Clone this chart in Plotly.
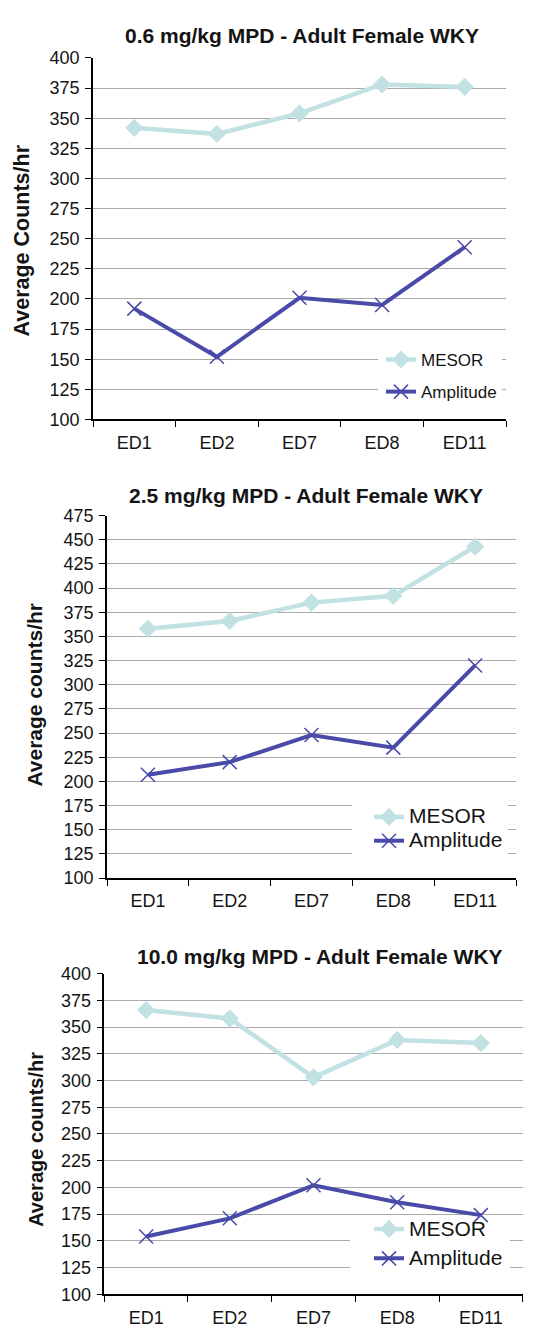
import plotly.graph_objects as go

# ---- data -------------------------------------------------------------
days = ["ED1", "ED2", "ED7", "ED8", "ED11"]

titles = [
    "0.6 mg/kg MPD - Adult Female WKY",
    "2.5 mg/kg MPD - Adult Female WKY",
    "10.0 mg/kg MPD - Adult Female WKY",
]
ylabels = ["Average Counts/hr", "Average counts/hr", "Average counts/hr"]

mesor_06 = [342, 337, 354, 378, 376]
ampl_06 = [192, 152, 201, 195, 243]

mesor_25 = [358, 366, 385, 392, 443]
ampl_25 = [207, 220, 248, 235, 320]

mesor_10 = [366, 358, 303, 338, 335]
ampl_10 = [154, 171, 202, 186, 174]

y_ranges = [(100, 400), (100, 475), (100, 400)]

# ---- page geometry (pixels) -----------------------------------------
W, H = 539, 1337
# left, right, top, bottom of each plotting area
panels = [
    (93, 506, 48.7, 415.7),
    (107, 516, 513.3, 881.3),
    (104.3, 522.7, 978.3, 1303.7),
]
title_pos = [(302, 26), (305.5, 493), (320, 960.5)]
ylabel_pos = [(22, 234, 21.5), (35, 695, 21), (36, 1147, 20)]

# legend placement: left x, top y, line-height font size, entry gap, text size
legend_specs = [
    (381, 337, 17, 7, 17),
    (369, 802, 16, 0, 21),
    (369, 1219, 18, 3, 21),
]
# white boxes behind the legends (left, right, top, bottom)
legend_boxes = [
    (378, 502, 338, 402),
    (352, 508, 801, 858),
    (350, 510, 1227, 1279),
]

MESOR_COLOR = "#c2e1e2"
AMPL_COLOR = "#4a4aa8"
TEXT = "#141414"
GRID = "#aaaaaa"
FONT = "Liberation Sans, Arial, sans-serif"

series = [(mesor_06, ampl_06), (mesor_25, ampl_25), (mesor_10, ampl_10)]
legend_names = ["legend", "legend2", "legend3"]


def sized(label, size, base):
    if size == base:
        return label
    return '<span style="font-size:%dpx">%s</span>' % (size, label)


fig = go.Figure()

for i, (mes, amp) in enumerate(series):
    ax = "" if i == 0 else str(i + 1)
    _, _, base, _, txt = legend_specs[i]
    fig.add_trace(go.Scatter(
        x=days, y=mes, name=sized("MESOR", txt, base), mode="lines+markers",
        xaxis="x" + ax, yaxis="y" + ax, legend=legend_names[i],
        legendgroup="m%d" % i,
        line=dict(color=MESOR_COLOR, width=4.5),
        marker=dict(symbol="diamond", size=14, color=MESOR_COLOR),
    ))
    fig.add_trace(go.Scatter(
        x=days, y=amp, name=sized("Amplitude", txt, base), mode="lines+markers",
        xaxis="x" + ax, yaxis="y" + ax, legend=legend_names[i],
        legendgroup="a%d" % i,
        line=dict(color=AMPL_COLOR, width=4),
        marker=dict(symbol="x-thin", size=14, color=AMPL_COLOR,
                    line=dict(color=AMPL_COLOR, width=1.5)),
    ))

layout = dict(
    width=W, height=H,
    margin=dict(l=0, r=0, t=0, b=0),
    paper_bgcolor="white", plot_bgcolor="white",
    font=dict(family=FONT, color=TEXT, size=18),
    hovermode=False,
)

annotations = []
shapes = []
for i, (x0, x1, yt, yb) in enumerate(panels):
    ax = "" if i == 0 else str(i + 1)
    lo, hi = y_ranges[i]
    layout["xaxis" + ax] = dict(
        domain=[x0 / W, x1 / W], anchor="y" + ax,
        type="category", range=[-0.5, 4.5],
        showgrid=False, zeroline=False,
        showline=True, linecolor="black", linewidth=1.5,
        ticks="outside", tickson="boundaries", ticklen=6,
        tickcolor="black", tickwidth=1.2,
        tickfont=dict(size=18, color=TEXT, family=FONT),
        ticklabelstandoff=6,
    )
    layout["yaxis" + ax] = dict(
        domain=[1 - yb / H, 1 - yt / H], anchor="x" + ax,
        range=[lo, hi], dtick=25, tick0=100,
        showgrid=True, gridcolor=GRID, gridwidth=1,
        zeroline=False,
        showline=True, linecolor="black", linewidth=1.5,
        ticks="outside", ticklen=6, tickcolor="black", tickwidth=1.2,
        tickfont=dict(size=18, color=TEXT, family=FONT),
        ticklabelstandoff=2,
    )
    cx, cy = title_pos[i]
    annotations.append(dict(
        text="<b>%s</b>" % titles[i], x=cx / W, y=1 - cy / H,
        xref="paper", yref="paper", xanchor="center", yanchor="middle",
        showarrow=False, font=dict(size=21, color=TEXT, family=FONT),
    ))
    lx, ly, ls = ylabel_pos[i]
    annotations.append(dict(
        text="<b>%s</b>" % ylabels[i], x=lx / W, y=1 - ly / H,
        xref="paper", yref="paper", xanchor="center", yanchor="middle",
        textangle=-90, showarrow=False,
        font=dict(size=ls, color=TEXT, family=FONT),
    ))
    # legend backdrop: hides the gridlines but stays under the data lines
    bl, br, bt, bb = legend_boxes[i]

    def to_x(px):
        return -0.5 + (px - x0) / (x1 - x0) * 5

    def to_y(py):
        return lo + (yb - py) / (yb - yt) * (hi - lo)

    shapes.append(dict(
        type="rect", layer="between",
        xref="x" + ax, yref="y" + ax,
        x0=to_x(bl), x1=to_x(br), y0=to_y(bb), y1=to_y(bt),
        fillcolor="white", line=dict(width=0),
    ))

layout["annotations"] = annotations
layout["shapes"] = shapes

for name, (lx, ly, fs, gap, _) in zip(legend_names, legend_specs):
    layout[name] = dict(
        x=lx / W, y=1 - ly / H, xref="paper", yref="paper",
        xanchor="left", yanchor="top",
        bgcolor="rgba(0,0,0,0)", borderwidth=0,
        font=dict(size=fs, color=TEXT, family=FONT),
        traceorder="grouped", tracegroupgap=gap,
    )

fig.update_layout(**layout)
fig.write_html("out.html")
